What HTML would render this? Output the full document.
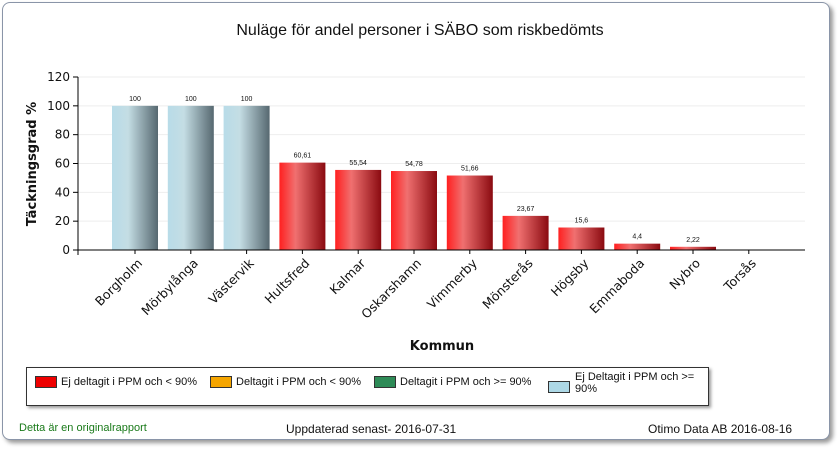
<!DOCTYPE html>
<html><head><meta charset="utf-8"><style>
body{margin:0;width:840px;height:450px;background:#fff;font-family:"Liberation Sans",sans-serif;overflow:hidden}
#card{position:absolute;left:2px;top:2px;width:826px;height:436px;border:1px solid #8a95a8;border-radius:8px;box-shadow:3px 3px 4px #999;background:#fff}
.t{position:absolute;white-space:nowrap}
</style></head><body>
<div id="card"></div>
<div class="t" style="left:0;width:840px;text-align:center;top:22px;font-size:16px;color:#111">Nuläge för andel personer i SÄBO som riskbedömts</div>
<svg id="chart" width="840" height="450" style="position:absolute;left:0;top:0">
<defs>
<linearGradient id="gr" x1="0" x2="1"><stop offset="0" stop-color="#ff2020"/><stop offset="0.35" stop-color="#f07070"/><stop offset="1" stop-color="#8a0a10"/></linearGradient>
<linearGradient id="gb" x1="0" x2="1"><stop offset="0" stop-color="#b8dce8"/><stop offset="0.35" stop-color="#c4dde4"/><stop offset="1" stop-color="#566870"/></linearGradient>
</defs>
<g id="g"></g>
</svg>
<div style="position:absolute;left:26px;top:367px;width:681px;height:37px;border:1px solid #333;box-shadow:2px 2px 3px #999;background:#fff;font-size:11px;color:#111">
<div class="t" style="left:8px;top:8px"><span style="display:inline-block;width:20px;height:10px;background:#e00;border:1px solid #333;vertical-align:middle;margin-right:4px"></span>Ej deltagit i PPM och &lt; 90%</div>
<div class="t" style="left:183px;top:8px"><span style="display:inline-block;width:20px;height:10px;background:#f5a500;border:1px solid #333;vertical-align:middle;margin-right:4px"></span>Deltagit i PPM och &lt; 90%</div>
<div class="t" style="left:347px;top:8px"><span style="display:inline-block;width:20px;height:10px;background:#2e8b57;border:1px solid #333;vertical-align:middle;margin-right:4px"></span>Deltagit i PPM och &gt;= 90%</div>
<div class="t" style="left:521px;top:13px"><span style="display:inline-block;width:20px;height:10px;background:#add8e6;border:1px solid #333;vertical-align:middle;margin-right:4px"></span></div>
<div class="t" style="left:548px;top:3px;line-height:12px">Ej Deltagit i PPM och &gt;=<br>90%</div>
</div>
<div class="t" style="left:19px;top:422px;font-size:11px;color:#1a7a1a">Detta är en originalrapport</div>
<div class="t" style="left:286px;top:422px;font-size:12px;color:#111">Uppdaterad senast- 2016-07-31</div>
<div class="t" style="left:648px;top:422px;font-size:12px;color:#111">Otimo Data AB 2016-08-16</div>
<script>
const categories=["Borgholm","Mörbylånga","Västervik","Hultsfred","Kalmar","Oskarshamn","Vimmerby","Mönsterås","Högsby","Emmaboda","Nybro","Torsås"];
const values=[100,100,100,60.61,55.54,54.78,51.66,23.67,15.6,4.4,2.22,0];
const valueLabels=["100","100","100","60,61","55,54","54,78","51,66","23,67","15,6","4,4","2,22",""];
const groups=["b","b","b","r","r","r","r","r","r","r","r","r"];
const yTicks=[0,20,40,60,80,100,120];
const NS="http://www.w3.org/2000/svg",g=document.getElementById('g');
const x0=78,x1=805,yTop=77,yBot=250;
const y=v=>yBot-(v/120)*(yBot-yTop);
const xc=i=>135+55.8*i;
function el(t,a,txt){const e=document.createElementNS(NS,t);for(const k in a)e.setAttribute(k,a[k]);if(txt!=null)e.textContent=txt;g.appendChild(e);return e;}
const bg=el('rect',{x:x0,y:yTop,width:x1-x0,height:yBot-yTop,fill:'#fff'});

yTicks.forEach(t=>{
 if(t>0){const gl=el('line',{x1:x0,x2:x1,y1:y(t),y2:y(t),stroke:'#eee'});}
 el('line',{x1:x0-5,x2:x0,y1:y(t),y2:y(t),stroke:'#000'});
 const l=el('text',{x:x0-8,y:y(t)+4,'text-anchor':'end','font-size':12,fill:'#111','font-family':'DejaVu Sans, sans-serif'},t);
 
});
values.forEach((v,i)=>{
 const b=el('rect',{x:xc(i)-23,y:y(v),width:46,height:yBot-y(v),fill:groups[i]=='b'?'url(#gb)':'url(#gr)'});
 
 if(valueLabels[i]){const t=el('text',{x:xc(i),y:y(v)-5,'text-anchor':'middle','font-size':7,fill:'#111'},valueLabels[i]);
 }
 el('line',{x1:xc(i),x2:xc(i),y1:yBot,y2:yBot+4,stroke:'#000'});
 const c=el('text',{transform:`translate(${xc(i)+8},${yBot+14}) rotate(-45)`,'text-anchor':'end','font-size':12.5,fill:'#111','font-family':'DejaVu Sans, sans-serif'},categories[i]);
 
});
el('line',{x1:x0,x2:x0,y1:yTop,y2:yBot+5,stroke:'#000'});
el('line',{x1:x0,x2:x1,y1:yBot,y2:yBot,stroke:'#000'});
const yt=el('text',{transform:'translate(36,164) rotate(-90)','text-anchor':'middle','font-size':13,'font-weight':'bold',fill:'#111','font-family':'DejaVu Sans, sans-serif'},'Täckningsgrad %');

const xt=el('text',{x:442,y:350,'text-anchor':'middle','font-size':13,'font-weight':'bold',fill:'#111','font-family':'DejaVu Sans, sans-serif'},'Kommun');

</script>
</body></html>
